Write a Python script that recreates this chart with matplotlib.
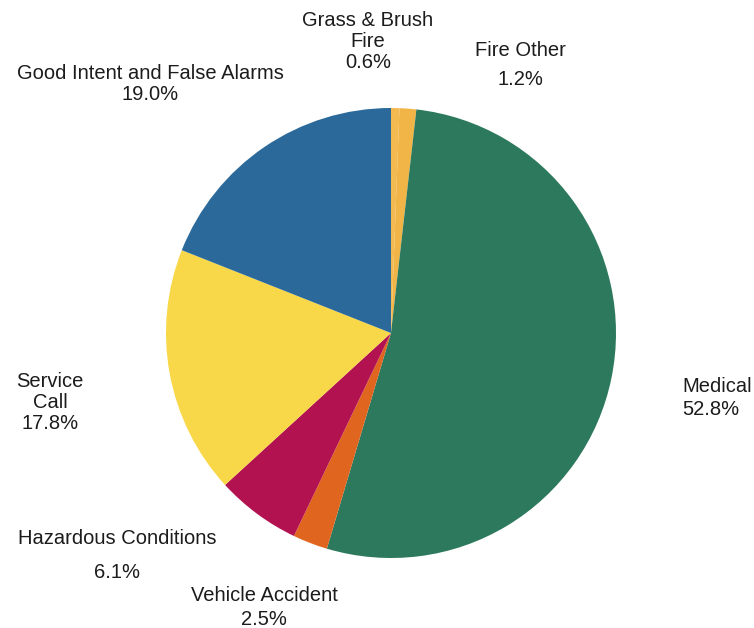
import matplotlib

matplotlib.use("Agg")
import matplotlib.pyplot as plt

# --- data -------------------------------------------------------------
categories = [
    "Grass & Brush Fire",
    "Fire Other",
    "Medical",
    "Vehicle Accident",
    "Hazardous Conditions",
    "Service Call",
    "Good Intent and False Alarms",
]
percent = [0.6, 1.2, 52.8, 2.5, 6.1, 17.8, 19.0]

colors = ["#F3BA52", "#F1B447", "#2D795D", "#E0651E", "#B2124F", "#F8D848", "#2A699A"]

# how each label breaks into lines (name lines, then the percentage)
label_lines = {
    "Grass & Brush Fire": ["Grass & Brush", "Fire"],
    "Fire Other": ["Fire Other"],
    "Medical": ["Medical"],
    "Vehicle Accident": ["Vehicle Accident"],
    "Hazardous Conditions": ["Hazardous Conditions"],
    "Service Call": ["Service", "Call"],
    "Good Intent and False Alarms": ["Good Intent and False Alarms"],
}

# --- layout (pixels on a 754x628 canvas) ------------------------------
W, H = 754, 628
CX, CY, R = 391, 333, 225

# (x, baselines for each line, horizontal alignment)
label_pos = {
    "Grass & Brush Fire": (368, [26, 47, 68], "center"),
    "Fire Other": (520, [56, 85], "center"),
    "Medical": (682, [392, 415], "left"),
    "Vehicle Accident": (264, [601, 625], "center"),
    "Hazardous Conditions": (117, [544, 578], "center"),
    "Service Call": (50, [387, 408, 429], "center"),
    "Good Intent and False Alarms": (150, [79, 100], "center"),
}

plt.rcParams["font.family"] = ["Liberation Sans", "DejaVu Sans"]

fig = plt.figure(figsize=(W / 100, H / 100), dpi=100)
fig.patch.set_facecolor("white")

ax = fig.add_axes([(CX - R) / W, (H - CY - R) / H, 2 * R / W, 2 * R / H])
ax.pie(percent, colors=colors, startangle=90, counterclock=False,
       radius=1.0, wedgeprops=dict(linewidth=0))
ax.set_xlim(-1, 1)
ax.set_ylim(-1, 1)
ax.set_aspect("equal")
ax.axis("off")

for name, pct in zip(categories, percent):
    x, baselines, ha = label_pos[name]
    lines = label_lines[name] + [f"{pct:.1f}%"]
    for text, y in zip(lines, baselines):
        fig.text(x / W, 1 - y / H, text, ha=ha, va="baseline",
                 fontsize=14.5, color="#1c1c1c")

fig.savefig("out.png", dpi=100, facecolor="white")
